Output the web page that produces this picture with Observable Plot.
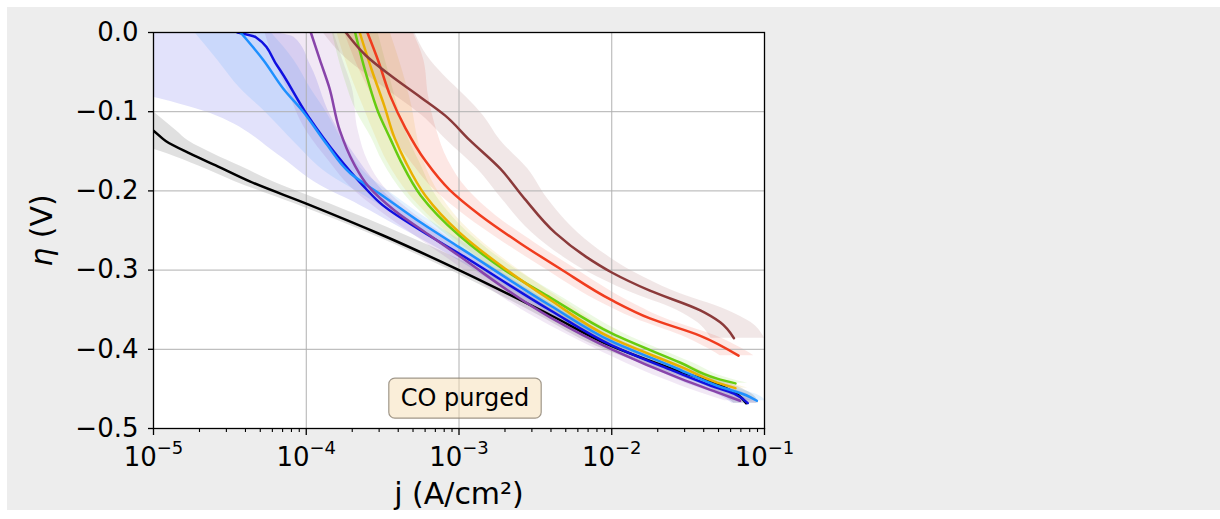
<!DOCTYPE html>
<html><head><meta charset="utf-8">
<script src="https://cdn.jsdelivr.net/npm/d3@7"></script>
<script src="https://cdn.jsdelivr.net/npm/@observablehq/plot@0.6"></script>
<style>
html,body{margin:0;padding:0;background:#fff;}
#fig{position:absolute;left:7px;top:7px;width:1213px;height:503px;background:#ededed;}
</style></head><body><div id="fig"></div>
<script>
// ---- axis ticks ----
const xTicks = [1e-5, 1e-4, 1e-3, 1e-2, 1e-1];
const yTicks = [-0.5, -0.4, -0.3, -0.2, -0.1, 0];
const xLabel = "j (A/cm²)";
const yLabel = "η (V)";
const annotation = "CO purged";

// ---- series: rows are [η (V), log10 j, band left (decades), band right (decades)] ----
const seriesNames  = ["black", "blue", "dodgerblue", "purple", "green", "gold", "red", "brown"];
const seriesColors = ["#000000", "#1010e0", "#1e90ff", "#8844aa", "#66cc11", "#eab000", "#f03c1e", "#8b3a3a"];

const blackCurve = [
  [-0.100, -5.20, 0.40, 0.20], [-0.124, -5.00, 0.35, 0.15], [-0.137, -4.92, 0.25, 0.15],
  [-0.153, -4.76, 0.15, 0.15], [-0.169, -4.58, 0.12, 0.15], [-0.188, -4.37, 0.10, 0.15],
  [-0.216, -4.00, 0.08, 0.15], [-0.256, -3.50, 0.06, 0.15], [-0.300, -3.00, 0.06, 0.15],
  [-0.357, -2.40, 0.08, 0.12], [-0.396, -2.00, 0.10, 0.10], [-0.425, -1.60, 0.10, 0.10],
  [-0.445, -1.30, 0.10, 0.10], [-0.458, -1.17, 0.10, 0.10], [-0.468, -1.12, 0.08, 0.08]
];
const blueCurve = [
  [0.000, -4.45, 2.00, 0.25], [-0.006, -4.33, 1.90, 0.25], [-0.042, -4.19, 1.60, 0.22],
  [-0.105, -3.99, 0.60, 0.15], [-0.155, -3.80, 0.38, 0.12], [-0.193, -3.63, 0.28, 0.10],
  [-0.218, -3.50, 0.15, 0.10], [-0.250, -3.25, 0.10, 0.08], [-0.279, -3.00, 0.08, 0.08],
  [-0.351, -2.40, 0.08, 0.08], [-0.395, -2.00, 0.08, 0.08], [-0.427, -1.60, 0.10, 0.08],
  [-0.446, -1.35, 0.12, 0.08], [-0.456, -1.20, 0.12, 0.08], [-0.468, -1.11, 0.10, 0.06]
];
const dodgerCurve = [
  [0.000, -4.43, 0.30, 0.20], [-0.035, -4.28, 0.30, 0.20], [-0.071, -4.15, 0.28, 0.18],
  [-0.100, -4.02, 0.25, 0.15], [-0.140, -3.87, 0.20, 0.12], [-0.178, -3.71, 0.15, 0.10],
  [-0.206, -3.50, 0.12, 0.08], [-0.240, -3.25, 0.08, 0.08], [-0.271, -3.00, 0.08, 0.08],
  [-0.345, -2.40, 0.08, 0.08], [-0.390, -2.00, 0.08, 0.08], [-0.422, -1.60, 0.08, 0.08],
  [-0.446, -1.31, 0.08, 0.08], [-0.458, -1.12, 0.08, 0.08], [-0.465, -1.05, 0.06, 0.06]
];
const purpleCurve = [
  [0.000, -3.97, 0.30, 0.15], [-0.035, -3.91, 0.30, 0.15], [-0.069, -3.85, 0.28, 0.15],
  [-0.124, -3.78, 0.22, 0.12], [-0.165, -3.69, 0.15, 0.10], [-0.195, -3.59, 0.12, 0.10],
  [-0.225, -3.42, 0.10, 0.10], [-0.255, -3.20, 0.10, 0.10], [-0.282, -3.00, 0.10, 0.10],
  [-0.360, -2.40, 0.10, 0.10], [-0.400, -2.00, 0.10, 0.10], [-0.437, -1.55, 0.12, 0.08],
  [-0.455, -1.30, 0.12, 0.08], [-0.465, -1.16, 0.10, 0.08]
];
const greenCurve = [
  [0.000, -3.68, 0.15, 0.15], [-0.058, -3.60, 0.15, 0.15], [-0.100, -3.53, 0.14, 0.14],
  [-0.134, -3.45, 0.12, 0.12], [-0.163, -3.38, 0.12, 0.12], [-0.206, -3.25, 0.10, 0.10],
  [-0.256, -3.00, 0.08, 0.08], [-0.300, -2.70, 0.08, 0.08], [-0.335, -2.40, 0.08, 0.08],
  [-0.380, -2.00, 0.08, 0.08], [-0.417, -1.55, 0.08, 0.08], [-0.437, -1.31, 0.08, 0.08],
  [-0.443, -1.19, 0.08, 0.08]
];
const goldCurve = [
  [0.000, -3.65, 0.15, 0.20], [-0.048, -3.57, 0.15, 0.20], [-0.092, -3.49, 0.14, 0.18],
  [-0.134, -3.42, 0.12, 0.15], [-0.163, -3.35, 0.12, 0.12], [-0.206, -3.22, 0.10, 0.10],
  [-0.252, -3.00, 0.08, 0.08], [-0.298, -2.70, 0.08, 0.08], [-0.338, -2.40, 0.08, 0.08],
  [-0.386, -2.00, 0.08, 0.08], [-0.422, -1.55, 0.08, 0.08], [-0.442, -1.31, 0.08, 0.08],
  [-0.449, -1.19, 0.08, 0.08]
];
const redCurve = [
  [0.000, -3.60, 0.15, 0.30], [-0.035, -3.53, 0.15, 0.30], [-0.080, -3.45, 0.12, 0.25],
  [-0.121, -3.35, 0.12, 0.20], [-0.162, -3.22, 0.10, 0.15], [-0.199, -3.06, 0.10, 0.12],
  [-0.231, -2.86, 0.10, 0.10], [-0.266, -2.60, 0.10, 0.10], [-0.298, -2.34, 0.10, 0.10],
  [-0.338, -2.00, 0.10, 0.10], [-0.361, -1.75, 0.10, 0.10], [-0.383, -1.42, 0.12, 0.10],
  [-0.408, -1.17, 0.12, 0.10]
];
const brownCurve = [
  [0.000, -3.74, 0.15, 0.45], [-0.029, -3.61, 0.15, 0.40], [-0.054, -3.45, 0.15, 0.35],
  [-0.082, -3.25, 0.15, 0.30], [-0.105, -3.09, 0.15, 0.25], [-0.136, -2.93, 0.15, 0.20],
  [-0.172, -2.73, 0.15, 0.18], [-0.210, -2.57, 0.15, 0.15], [-0.253, -2.37, 0.15, 0.15],
  [-0.283, -2.17, 0.15, 0.15], [-0.303, -2.00, 0.15, 0.15], [-0.326, -1.75, 0.15, 0.15],
  [-0.351, -1.42, 0.15, 0.18], [-0.366, -1.29, 0.15, 0.20], [-0.386, -1.20, 0.15, 0.20]
];
const seriesCurves = [blackCurve, blueCurve, dodgerCurve, purpleCurve, greenCurve, goldCurve, redCurve, brownCurve];

// ---- build tables ----
const series = seriesCurves.map((rows, k) => ({
  name: seriesNames[k],
  color: seriesColors[k],
  rows: rows.map(([eta, lj, dl, dr]) => ({eta, j: 10 ** lj, lo: 10 ** (lj - dl), hi: 10 ** (lj + dr)}))
}));

const xMinor = [];
for (let e = -5; e < -1; e++) for (let m = 2; m <= 9; m++) xMinor.push(m * 10 ** e);

const supChars = {"-": "⁻", "0": "⁰", "1": "¹", "2": "²", "3": "³", "4": "⁴", "5": "⁵", "6": "⁶", "7": "⁷", "8": "⁸", "9": "⁹"};
const fmtX = d => "10" + String(Math.round(Math.log10(d))).split("").map(c => supChars[c]).join("");
const fmtY = d => (d < -1e-9 ? "−" : "") + Math.abs(d).toFixed(1);

const font = "DejaVu Sans";
const gridStyle = {stroke: "#b0b0b0", strokeOpacity: 1, strokeWidth: 1};

const chart = Plot.plot({
  width: 1213,
  height: 503,
  marginLeft: 146,
  marginTop: 25,
  marginRight: 456,
  marginBottom: 82,
  style: {background: "transparent", fontFamily: font, color: "black"},
  x: {type: "log", domain: [1e-5, 1e-1]},
  y: {domain: [-0.5, 0]},
  marks: [
    Plot.frame({fill: "white", stroke: null}),
    ...series.map(s => Plot.areaX(s.rows, {y: "eta", x1: "lo", x2: "hi", fill: s.color, fillOpacity: 0.12, curve: "monotone-y", clip: true})),
    Plot.gridX(xTicks, gridStyle),
    Plot.gridY(yTicks, gridStyle),
    ...series.map(s => Plot.line(s.rows, {x: "j", y: "eta", stroke: s.color, strokeWidth: 2.5, curve: "monotone-y", clip: true})),
    Plot.frame({stroke: "black", strokeWidth: 1.3}),
    Plot.axisX(xMinor, {anchor: "bottom", tickSize: 4, tickFormat: () => "", label: null, strokeWidth: 1.1}),
    Plot.axisX(xTicks, {anchor: "bottom", tickSize: 7, tickPadding: 12, tickFormat: fmtX, fontSize: 26, label: null, strokeWidth: 1.3}),
    Plot.axisY(yTicks, {anchor: "left", tickSize: 5, tickPadding: 10, tickFormat: fmtY, fontSize: 26, label: null, strokeWidth: 1.3}),
    Plot.text([xLabel], {frameAnchor: "bottom", dy: 75, lineAnchor: "bottom", textAnchor: "middle", fontSize: 30, text: d => d}),
    Plot.text([yLabel], {frameAnchor: "left", rotate: -90, dx: -111, lineAnchor: "middle", textAnchor: "middle", fontSize: 30, text: d => d}),
    Plot.text([annotation], {frameAnchor: "bottom", dx: 6, dy: -30, lineAnchor: "middle", textAnchor: "middle", fontSize: 24, text: d => d})
  ]
});

document.getElementById("fig").appendChild(chart);

const NS = "http://www.w3.org/2000/svg";
const supBack = Object.fromEntries(Object.entries(supChars).map(([k, v]) => [v, k === "-" ? "−" : k]));
// superscript exponents on x tick labels
chart.querySelectorAll('g[aria-label="x-axis tick label"] text').forEach(t => {
  const s = t.textContent;
  if (!s || !s.startsWith("10")) return;
  const exp = s.slice(2).split("").map(c => supBack[c] ?? c).join("");
  t.textContent = "";
  const a = document.createElementNS(NS, "tspan"); a.textContent = "10"; t.appendChild(a);
  const b = document.createElementNS(NS, "tspan");
  b.setAttribute("dy", "-12"); b.setAttribute("font-size", "18"); b.textContent = exp; t.appendChild(b);
});
// italic eta, and the annotation box
chart.querySelectorAll("text").forEach(t => {
  if (t.textContent === yLabel) {
    t.textContent = "";
    const a = document.createElementNS(NS, "tspan"); a.setAttribute("font-style", "italic"); a.textContent = "η"; t.appendChild(a);
    const b = document.createElementNS(NS, "tspan"); b.textContent = " (V)"; t.appendChild(b);
  } else if (t.textContent === annotation) {
    const bb = t.getBBox();
    const r = document.createElementNS(NS, "rect");
    const px = 12, py = 6;
    r.setAttribute("x", bb.x - px); r.setAttribute("y", bb.y - py);
    r.setAttribute("width", bb.width + 2 * px); r.setAttribute("height", bb.height + 2 * py);
    r.setAttribute("rx", 6);
    r.setAttribute("fill", "#f5deb3"); r.setAttribute("fill-opacity", 0.5);
    r.setAttribute("stroke", "#8a8070"); r.setAttribute("stroke-opacity", 0.8); r.setAttribute("stroke-width", 1.2);
    if (t.getAttribute("transform")) r.setAttribute("transform", t.getAttribute("transform"));
    t.parentNode.insertBefore(r, t);
  }
});
</script>
</body></html>
